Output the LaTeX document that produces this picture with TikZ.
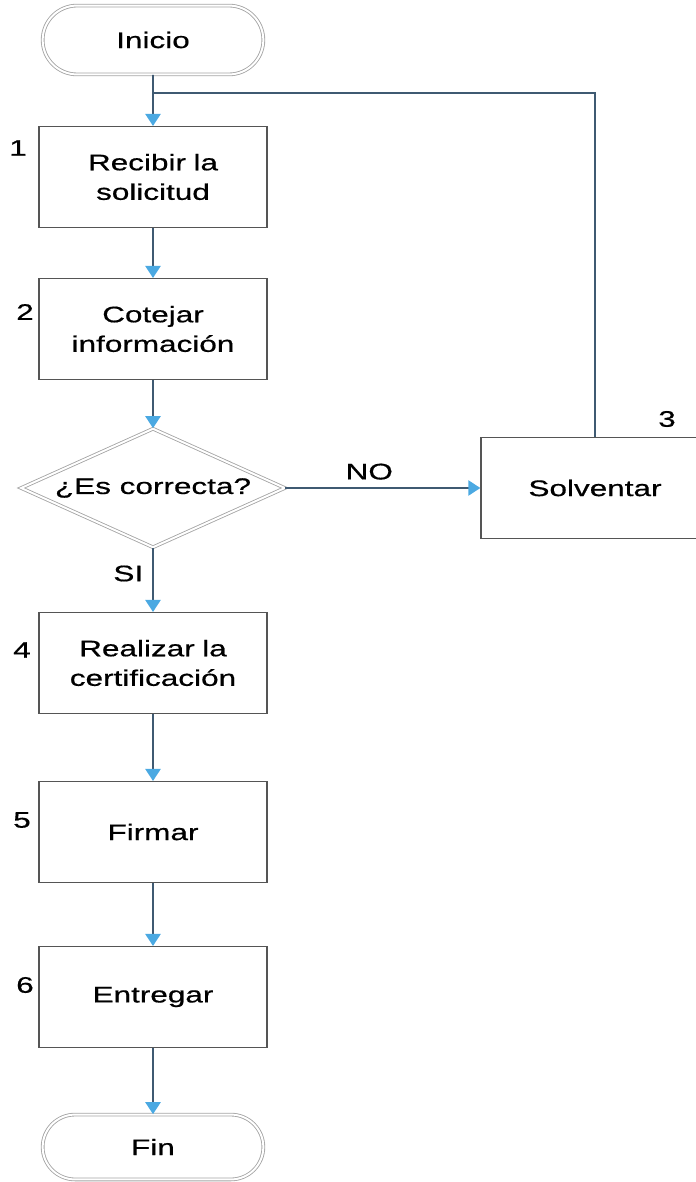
\documentclass[tikz,border=0pt]{standalone}
\usepackage{fontspec}
\setmainfont{Liberation Sans}[FakeStretch=1.4,FakeBold=0.6]
\usetikzlibrary{shapes,arrows.meta,positioning}
\definecolor{linecol}{HTML}{3F5A72}
\definecolor{tipcol}{HTML}{4BA9E2}
\definecolor{edgecol}{HTML}{555555}
\definecolor{termcol}{HTML}{A4A4A4}

\begin{document}
\begin{tikzpicture}[x=0.025cm, y=-0.025cm, >={Triangle[width=0.38cm,length=0.3cm,color=tipcol]}, font=\fontsize{16}{21}\selectfont]
\tikzstyle{block} = [rectangle, draw=edgecol, line width=0.9pt, fill=white, 
text width=5.2cm, align=center, minimum width=5.7cm, minimum height=2.52cm, inner sep=0pt]
\tikzstyle{term} = [rounded rectangle, draw=termcol, double=white, double distance=1.4pt, 
line width=0.6pt, minimum width=5.75cm, minimum height=1.72cm]
\tikzstyle{decision} = [diamond, aspect=2.2, draw=termcol, double=white, double distance=1.4pt, 
line width=0.6pt, minimum width=6.6cm, minimum height=2.97cm, inner sep=0pt]
\tikzstyle{line} = [draw=linecol, line width=1.3pt, ->]
\useasboundingbox (0,0) rectangle (696,1182);
\node[term] at (153,40) (A0){Inicio};
\node[block] at (153,177) (A1){Recibir la\\ solicitud};
\node[block] at (153,329) (A2){Cotejar\\ información};
\node[decision] at (153,488) (A3){¿Es correcta?};
\node[block] at (595,488) (A4){Solventar};
\node[block] at (153,663) (A5){Realizar la\\ certificación};
\node[block] at (153,832) (A6){Firmar};
\node[block] at (153,997) (A7){Entregar};
\node[term,minimum height=1.62cm] at (153,1147) (A8){Fin};
\node at (18,148) (N1){1};
\node at (25,312) (N2){2};
\node at (667,419) (N3){3};
\node at (22,650) (N4){4};
\node at (22,820) (N5){5};
\node at (25,985) (N6){6};
\coordinate (J1) at (153,93);
%% arrows
\draw[line] (A0) -- (A1);
\draw[line] (A1) -- (A2);
\draw[line] (A2) -- (A3);
\draw[line] (A3.east) -- node[above=2pt,pos=0.43]{NO} (A4.west);
\draw[line] (A3.south) -- node[left=3pt,pos=0.4]{SI} (A5.north);
\draw[line,-] (A4.north) |- (J1);
\draw[line] (A5) -- (A6);
\draw[line] (A6) -- (A7);
\draw[line] (A7) -- (A8);
\end{tikzpicture}
\end{document}
